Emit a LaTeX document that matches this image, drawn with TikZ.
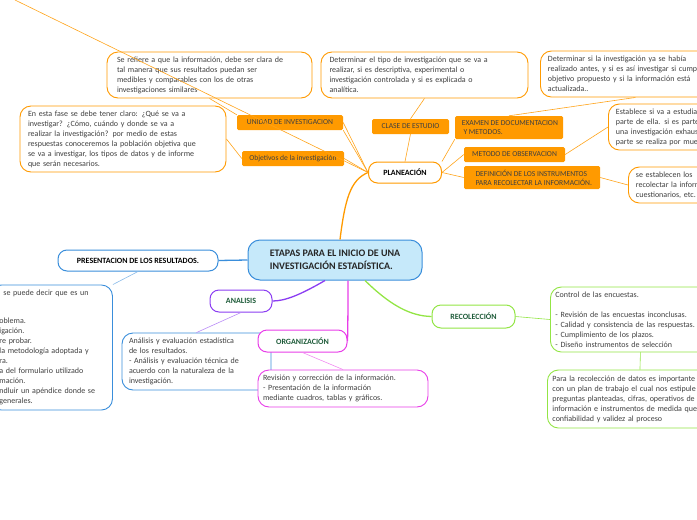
\documentclass[tikz,border=0pt]{standalone}
\usepackage{fontspec}
\setmainfont{Carlito}
\definecolor{org}{HTML}{FF9A00}
\definecolor{orgl}{HTML}{FFA31A}
\definecolor{blu}{HTML}{3A8EDB}
\definecolor{cfill}{HTML}{C6E9FA}
\definecolor{pur}{HTML}{8B3DF2}
\definecolor{mag}{HTML}{E83DE8}
\definecolor{grn}{HTML}{93E545}
\definecolor{txt}{HTML}{404040}
\definecolor{dgrn}{HTML}{1F5C3A}
\begin{document}
\begin{tikzpicture}[x=1pt,y=-1pt,
  tb/.style={draw=#1,line width=0.9pt,rounded corners=11pt,fill=white,inner sep=0pt,align=left,font=\fontsize{8}{10}\selectfont,text=txt},
  lab/.style={fill=org,rounded corners=1.5pt,inner sep=0pt,align=left,font=\fontsize{7.6}{9}\selectfont,text=txt},
  topic/.style={draw=#1,line width=1pt,rounded corners=9pt,fill=white,inner sep=0pt,font=\bfseries\fontsize{8}{9}\selectfont},
  thin/.style={draw=#1,line width=0.6pt},
  br/.style={draw=#1,line width=1.3pt}]
\useasboundingbox (0,0) rectangle (697,520);
\clip (0,0) rectangle (697,520);
% central
\node[draw=blu,line width=1pt,fill=cfill,rounded corners=12pt,minimum width=174pt,minimum height=40pt,align=left,font=\bfseries\fontsize{10}{13}\selectfont,text=black!85,inner sep=0pt] (c) at (335,260) {ETAPAS PARA EL INICIO DE UNA\\INVESTIGACIÓN ESTADÍSTICA.};
% text boxes
\node[tb=org,minimum width=205pt,minimum height=46pt,text width=185pt] (t1) at (209.5,75) {Se refiere a  que la información, debe ser clara de\\tal manera que sus resultados puedan ser\\medibles y comparables con los de otras\\investigaciones similares};
\node[tb=org,minimum width=206pt,minimum height=66pt,text width=190pt] (t2) at (123,139) {En esta fase se debe tener claro: ¿Qué se va a\\investigar? ¿Cómo, cuándo y donde se va a\\realizar la investigación? por medio de estas\\respuestas conoceremos la población objetiva que\\se va a investigar, los tipos de datos y de informe\\que serán necesarios.};
\node[tb=org,minimum width=207pt,minimum height=46pt,text width=190pt] (t3) at (424.5,75) {Determinar el tipo de investigación que se va a\\realizar, si es descriptiva, experimental o\\investigación controlada y si es explicada o\\analítica.};
\node[tb=org,minimum width=190pt,minimum height=46pt,text width=175pt,anchor=west] (t4) at (540,74) {Determinar si la investigación ya se había\\realizado antes, y si es así investigar si cumplió el\\objetivo propuesto y si la información está\\actualizada..};
\node[tb=org,minimum width=130pt,minimum height=46pt,text width=115pt,anchor=west] (t5) at (608,127) {Establece si va a estudiar\\parte de ella. si es parte\\una investigación exhaustiva\\parte se realiza por muestreo};
\node[tb=org,minimum width=100pt,minimum height=36pt,text width=85pt,anchor=west] (t6) at (628,185) {se establecen los\\recolectar la información\\cuestionarios, etc.};
\node[tb=blu,minimum width=122pt,minimum height=125pt,text width=112pt,anchor=west] (t7) at (-10,347.5) {\hspace*{8pt}se puede decir que es un\\[18pt]\hspace*{4pt}oblema.\\\hspace*{4pt}igación.\\\hspace*{4pt}re probar.\\\hspace*{4pt}la metodología  adoptada y\\\hspace*{4pt}ra.\\\hspace*{4pt}a del formulario utilizado\\\hspace*{4pt}mación.\\\hspace*{4pt}ndluir un apéndice donde se\\\hspace*{4pt}generales.};
\node[tb=blu,minimum width=149pt,minimum height=57pt,text width=135pt] (t8) at (196.5,361.5) {Análisis y evaluación estadística\\de los resultados.\\- Análisis y evaluación técnica de\\acuerdo con la naturaleza de la\\investigación.};
\node[tb=mag,minimum width=170pt,minimum height=37pt,text width=160pt] (t9) at (343,388.5) {Revisión y corrección de la información.\\- Presentación de la información\\mediante cuadros, tablas y gráficos.};
\node[tb=grn,minimum width=180pt,minimum height=65pt,text width=170pt,anchor=west] (t10) at (550,319.5) {Control de las encuestas.\\[10pt]- Revisión  de las encuestas inconclusas.\\- Calidad y consistencia de las respuestas.\\- Cumplimiento de los  plazos.\\- Diseño instrumentos de selección};
\node[tb=grn,minimum width=185pt,minimum height=58pt,text width=175pt,anchor=west] (t11) at (547,399) {Para la recolección de datos  es importante contar\\con un plan de trabajo el cual nos estipule las\\preguntas planteadas, cifras, operativos de\\información e instrumentos de medida que den\\confiabilidad y validez al proceso};
% topics
\node[topic=org,minimum width=73pt,minimum height=21pt] (pl) at (405,172.5) {PLANEACIÓN};
\node[topic=blu,minimum width=160pt,minimum height=21pt] (pr) at (138,260.5) {PRESENTACION DE LOS RESULTADOS.};
\node[topic=pur,minimum width=62pt,minimum height=22pt,text=dgrn] (an) at (241,301) {ANALISIS};
\node[topic=mag,minimum width=89pt,minimum height=22pt,text=dgrn] (og) at (302.5,341) {ORGANIZACIÓN};
\node[topic=grn,minimum width=83pt,minimum height=23pt,text=dgrn] (rc) at (473.5,316.5) {RECOLECCIÓN};
% labels
\node[lab,minimum width=106pt,minimum height=15pt,align=center] (ui) at (290,122.5) {UNIDAD DE INVESTIGACION};
\node[lab,minimum width=102pt,minimum height=15pt,align=center] (ob) at (293,158.5) {Objetivos de la investigación};
\node[lab,minimum width=77pt,minimum height=15pt,align=center] (ce) at (410.5,126.5) {CLASE DE ESTUDIO};
\node[lab,minimum width=108pt,minimum height=23pt] (ex) at (509,127.5) {\ EXAMEN DE DOCUMENTACION\\\ \ Y METODOS.};
\node[lab,minimum width=101pt,minimum height=15pt,align=center] (mo) at (514.5,154.5) {METODO DE OBSERVACION};
\node[lab,minimum width=136pt,minimum height=23pt] (de) at (532,177.5) {\ \ DEFINICIÓN DE LOS INSTRUMENTOS\\\ \ PARA RECOLECTAR LA INFORMACIÓN.};
% branches
\draw[br=org] (c.north)+(5,0) coordinate (cn) .. controls (345,200) and (350,180) .. (pl.west);
\draw[br=blu] (pr.east) -- (c.west);
\draw[br=pur] (c.south)+(-10,0) coordinate (cs) .. controls (300,295) and (285,301) .. (an.east);
\draw[br=mag] (c.south)+(13,0) coordinate (cs2) .. controls (348,300) and (348,320) .. (og.east);
\draw[br=grn] (c.south)+(30,0) coordinate (cs3) .. controls (390,305) and (410,316) .. (rc.west);
% planeacion connectors
\coordinate (far) at (15,0);
\draw[thin=orgl] (far) -- (pl.west);
\draw[thin=orgl] (ui.east) -- (pl.west);
\draw[thin=orgl] (ui.south east) -- (pl.west);
\draw[thin=orgl] (t1.south) -- (ui.north west);
\draw[thin=orgl] (ob.east) -- (pl.west);
\draw[thin=orgl] (t2.east) -- (ob.west);
\draw[thin=orgl] (ce.south) -- (pl.north);
\draw[thin=orgl] (t3.south) -- (ce.north);
\draw[thin=orgl] (pl.north east) -- (ex.south west);
\draw[thin=orgl] (ex.north) -- (t4.south);
\draw[thin=orgl] (pl.east) -- (mo.west);
\draw[thin=orgl] (mo.east) -- (t5.west);
\draw[thin=orgl] (pl.east) -- (de.west);
\draw[thin=orgl] (de.east) -- (t6.west);
% others
\draw[thin=blu!60] (pr.south) -- (t7.north east);
\draw[thin=pur!60] (an.south) -- (t8.north);
\draw[thin=mag!60] (og.south) -- (t9.north);
\draw[thin=grn] (rc.east) -- (t10.west);
\draw[thin=grn] (t10.south) -- (t11.north);
\end{tikzpicture}
\end{document}
